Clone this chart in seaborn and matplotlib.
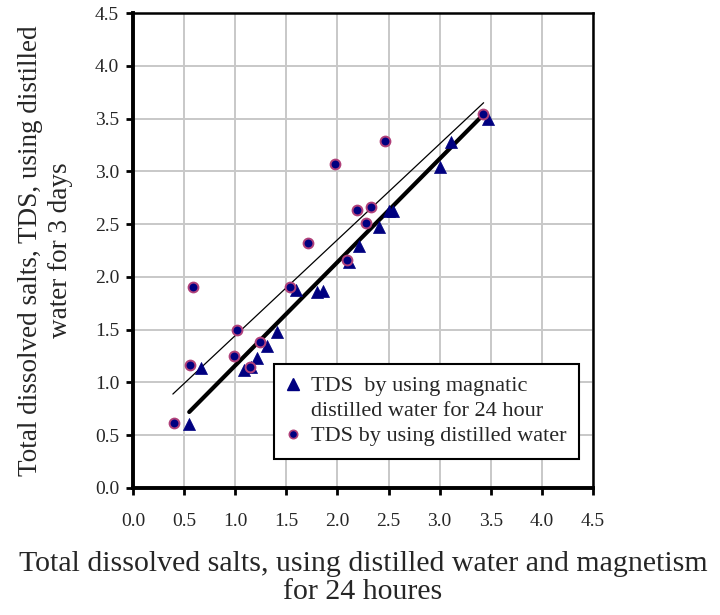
import numpy as np
import pandas as pd
import matplotlib
matplotlib.use("Agg")
import matplotlib.pyplot as plt
import seaborn as sns
from matplotlib.lines import Line2D

# ---- data ----
mag_x = [0.55, 0.67, 1.09, 1.15, 1.21, 1.31, 1.41, 1.59, 1.80, 1.86,
         2.11, 2.21, 2.41, 2.50, 2.54, 3.00, 3.11, 3.47]
mag_y = [0.61, 1.14, 1.12, 1.15, 1.23, 1.35, 1.48, 1.88, 1.86, 1.87,
         2.14, 2.29, 2.47, 2.62, 2.62, 3.04, 3.28, 3.50]

dist_x = [0.40, 0.56, 0.59, 0.99, 1.02, 1.14, 1.24, 1.54, 1.71, 1.98,
          2.09, 2.19, 2.28, 2.33, 2.47, 3.42]
dist_y = [0.62, 1.17, 1.90, 1.25, 1.50, 1.15, 1.38, 1.90, 2.32, 3.07,
          2.16, 2.63, 2.51, 2.66, 3.29, 3.54]

# trend lines (end points)
trend_mag_x = [0.55, 3.42]
trend_mag_y = [0.72, 3.53]
trend_dist_x = [0.39, 3.43]
trend_dist_y = [0.89, 3.65]

ticks = [0.0, 0.5, 1.0, 1.5, 2.0, 2.5, 3.0, 3.5, 4.0, 4.5]
tick_labels = ["0.0", "0.5", "1.0", "1.5", "2.0", "2.5", "3.0", "3.5", "4.0", "4.5"]

legend_lines = ["TDS  by using magnatic", "distilled water for 24 hour",
                "TDS by using distilled water"]
xlabel = "Total dissolved salts, using distilled water and magnetism\nfor 24 houres"
ylabel = "Total dissolved salts, TDS, using distilled\nwater for 3 days"

sns.set_theme(style="white")
plt.rcParams["font.family"] = ["Liberation Serif", "DejaVu Serif"]

fig = plt.figure(figsize=(7.2, 6.15), dpi=100)
ax = fig.add_axes([133 / 720, 1 - 488 / 615, 460 / 720, 475 / 615])

df_mag = pd.DataFrame({"x": mag_x, "y": mag_y})
df_dist = pd.DataFrame({"x": dist_x, "y": dist_y})

navy = "#000080"
pink = "#b0407a"

sns.lineplot(x=trend_dist_x, y=trend_dist_y, ax=ax, color="black", linewidth=0.9, zorder=3)
sns.lineplot(x=trend_mag_x, y=trend_mag_y, ax=ax, color="black", linewidth=3.0, zorder=3)

sns.scatterplot(data=df_mag, x="x", y="y", ax=ax, marker="^", s=75, color=navy,
                edgecolor=navy, linewidth=0.5, zorder=4)
sns.scatterplot(data=df_dist, x="x", y="y", ax=ax, marker="o", s=50, color=navy,
                edgecolor=pink, linewidth=1.4, zorder=5)

ax.set_xlim(0, 4.5)
ax.set_ylim(0, 4.5)
ax.set_xticks(ticks)
ax.set_yticks(ticks)
ax.set_xticklabels(tick_labels, fontsize=14)
ax.set_yticklabels(tick_labels, fontsize=14)
ax.grid(True, color="#c8c8c8", linewidth=1.4)
ax.set_axisbelow(True)

for side in ["left", "bottom"]:
    ax.spines[side].set_linewidth(2.8)
    ax.spines[side].set_color("black")
for side in ["top", "right"]:
    ax.spines[side].set_linewidth(1.8)
    ax.spines[side].set_color("black")
    ax.spines[side].set_visible(True)

ax.tick_params(axis="both", which="both", direction="out", length=5, width=2,
               color="black", left=True, bottom=True)
ax.tick_params(axis="x", pad=13)
ax.tick_params(axis="y", pad=5)

ax.set_xlabel(xlabel, fontsize=21.5, labelpad=15, linespacing=1.1)
ax.set_ylabel(ylabel, fontsize=19.5, labelpad=16, linespacing=1.25)

handles = [
    Line2D([], [], linestyle="none", marker="^", markersize=8, color=navy, markeredgecolor=navy),
    Line2D([], [], linestyle="none", marker="", color="none"),
    Line2D([], [], linestyle="none", marker="o", markersize=6, color=navy,
           markeredgecolor=pink, markeredgewidth=1.2),
]
leg = ax.legend(handles, legend_lines, loc="upper left",
                bbox_to_anchor=(0.307, 0.262), fontsize=16, frameon=True,
                fancybox=False, edgecolor="black", framealpha=1,
                handlelength=0.6, handletextpad=0.5, borderpad=0.55,
                labelspacing=0.2, borderaxespad=0)
leg.get_frame().set_linewidth(1.5)

fig.savefig("out.png", dpi=100, facecolor="white")
